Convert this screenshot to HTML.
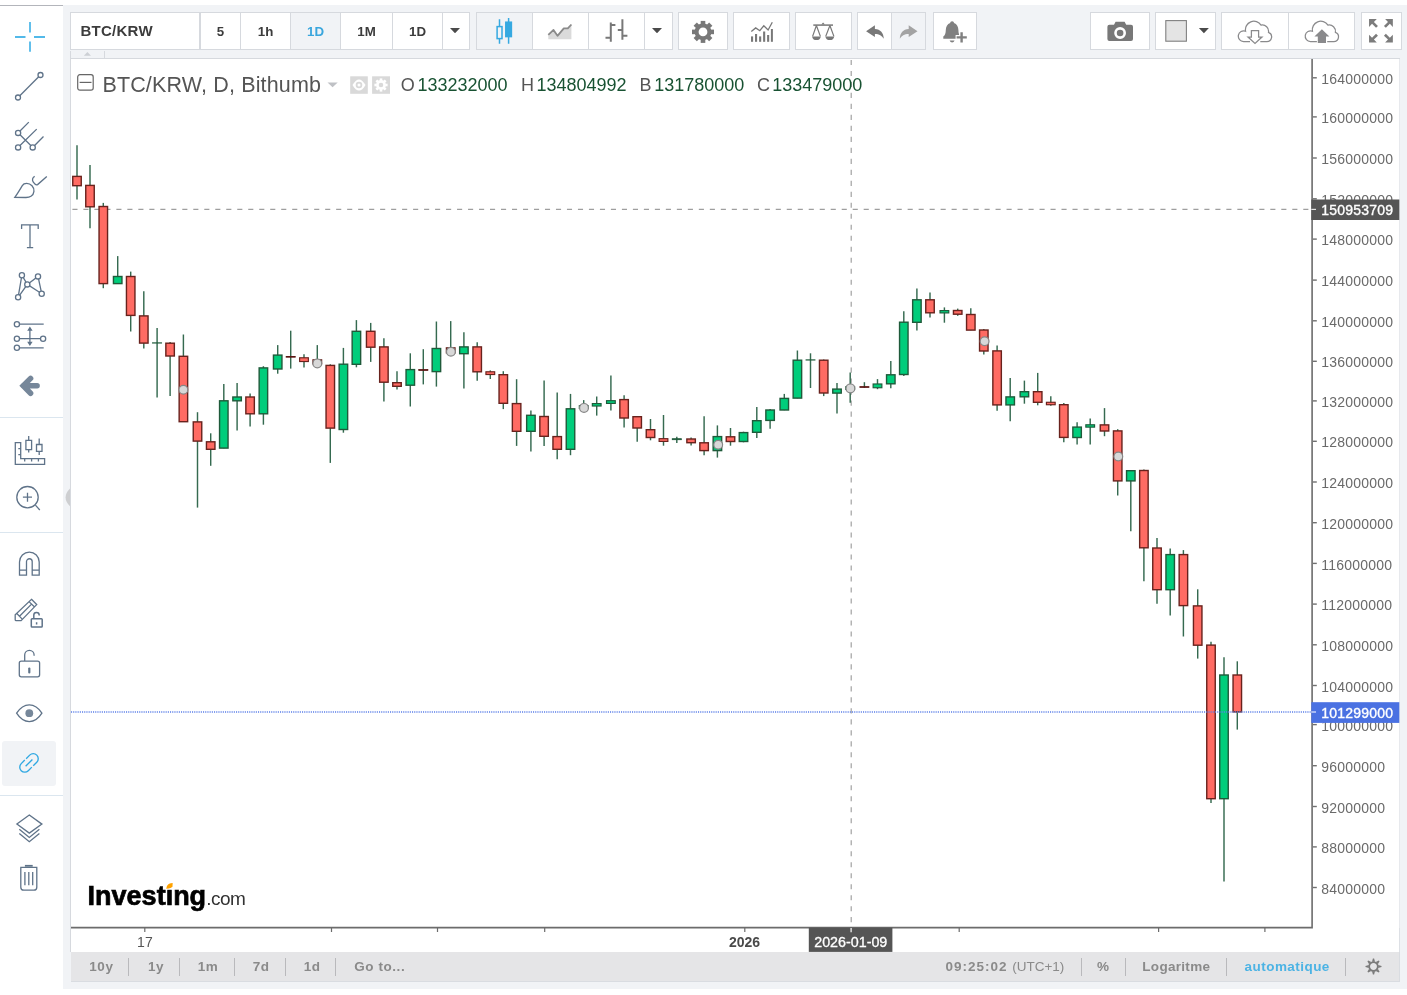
<!DOCTYPE html>
<html lang="fr">
<head>
<meta charset="utf-8">
<title>BTC/KRW</title>
<style>
html,body{margin:0;padding:0}
body{width:1407px;height:995px;position:relative;overflow:hidden;background:#fff;font-family:"Liberation Sans",sans-serif;color:#4a4a4a}
.abs{position:absolute}
#topline{position:absolute;left:0;top:5px;width:63px;height:1px;background:#b3b5bb}
#panel{position:absolute;left:63px;top:5px;width:1344px;height:984px;background:#f1f3f6}
.sep{position:absolute;left:0;width:63px;height:1px;background:#dbe6ef}
#active{position:absolute;left:2px;top:741px;width:54px;height:45px;border-radius:3px;background:#f1f3f6}
.tb{position:absolute;top:12px;height:38px;box-sizing:border-box;background:#fff;border:1px solid #d6d9de}
.tb.on{background:#f1f3f6}
.tb span{position:absolute;left:0;right:0;top:0.6px;line-height:36px;text-align:center;font-weight:bold;font-size:13.3px;color:#3c3c3c}
.tb span.blue{color:#3aa6dd}
#sym{position:absolute;left:9.5px;top:0.4px;line-height:36px;font-weight:bold;font-size:15px;color:#3c3c3c;letter-spacing:.25px}
#strip{position:absolute;left:70px;top:51px;width:1329px;height:7px;border-left:1px solid #d6d9de;border-bottom:1px solid #d6d9de}
#strip i{position:absolute;left:32.6px;top:0;width:1px;height:7px;background:#d6d9de}
#chart{position:absolute;left:70px;top:59px;width:1329.8px;height:893px;background:#fff;border-left:1px solid #d6d9de;border-right:1px solid #dde0e5;box-sizing:border-box}
#legend{position:absolute;left:0;top:0;white-space:nowrap}
#legend .t{position:absolute;top:71.8px;left:102.4px;font-size:21.5px;line-height:26px;color:#555;white-space:nowrap;letter-spacing:.15px}
#legend .v{position:absolute;top:73.5px;font-size:18px;line-height:22px;white-space:nowrap}
#legend .k{color:#555}
#legend .n{color:#185232}
#logo{position:absolute;left:87.6px;top:878.6px;white-space:nowrap;line-height:34px;color:#000}
#logo b{font-size:27px;letter-spacing:0px;-webkit-text-stroke:.7px #000}
#logo span{font-size:19px;letter-spacing:-.45px;color:#333;margin-left:0}
#bbar{position:absolute;left:71px;top:952px;width:1328.8px;height:30px;background:#e5e5e7;border-bottom:1px solid #d9dce1;border-right:1px solid #d9dce1;box-sizing:border-box;font-weight:bold;font-size:13.5px;color:#8a8a8a}
#bbar span{position:absolute;top:0;line-height:29px;white-space:nowrap;letter-spacing:.55px}
#bbar i{position:absolute;top:6px;width:1px;height:18px;background:#b9b9bc}
</style>
</head>
<body>
<div id="topline"></div>
<div id="panel"></div>
<div class="sep" style="top:417px"></div>
<div class="sep" style="top:532px"></div>
<div class="sep" style="top:795px"></div>
<div id="active"></div>
<svg class="abs" style="left:0;top:0" width="63" height="995" viewBox="0 0 63 995" fill="none" stroke="#5f7389" stroke-width="1.3">
<g stroke="#52b9e9" stroke-width="1.8"><path d="M30 22V32.5M30 41.5V51.7M15 37H25.5M34 37H45"/></g>
<path d="M19.8 95.7L38.7 76.8"/><circle cx="18" cy="97.5" r="2.5"/><circle cx="40.5" cy="75" r="2.5"/>
<path d="M20 131L28.8 122.1M20 134.8L30.8 145.5M20 145.5L36.7 129.1M34.6 145.5L43.5 136.5"/><circle cx="18.1" cy="132.9" r="2.6"/><circle cx="18.1" cy="147.4" r="2.6"/><circle cx="32.7" cy="147.4" r="2.6"/>
<path d="M14.8 197.4C18 193 20.5 188.5 22.3 185.6C24 182.8 29 182.6 32 185.8C35 189 34.5 194 31 196.3C29.5 197.3 28 197.5 26 197.5Z"/><path d="M34.7 176.4C32.5 177.5 31.8 180 33.3 182.2C34.6 184.2 36.3 185.2 37.6 184.6L46.8 176.4"/>
<path d="M21.6 229V224.9H38.2V229M30 224.9V247.7M26.9 247.7H33.2"/>
<path d="M21.9 275.2L27.3 284.4L18.1 297.3ZM27.3 284.4L38 276.4L41.7 293.7Z"/><g fill="#fff"><circle cx="21.9" cy="275.2" r="2.6"/><circle cx="38" cy="276.4" r="2.6"/><circle cx="27.3" cy="284.4" r="2.6"/><circle cx="41.7" cy="293.7" r="2.6"/><circle cx="18.1" cy="297.3" r="2.6"/></g>
<path d="M19.6 324.2H43.7M19.6 338.7H40.4M19.6 347.8H43.7M29.9 329V343.5"/><circle cx="16.9" cy="324.2" r="2.6"/><circle cx="16.9" cy="338.7" r="2.6"/><circle cx="43.1" cy="338.7" r="2.6"/><circle cx="16.9" cy="347.8" r="2.6"/><path d="M29.9 326.5L27.2 330.8H32.6ZM29.9 346L27.2 341.7H32.6Z" fill="#5f7389" stroke="none"/>
<path d="M30.6 378.4L23.2 385.8L30.6 393.3M23.2 385.8H37.1" stroke="#76879a" stroke-width="5.5" stroke-linecap="round" stroke-linejoin="miter"/>
<path d="M15.3 442.7H20.7V458.6H44.6V464.4H15.3ZM18.3 448.7H20.7M18.3 454.7H20.7M24.7 458.6V461.6M31.6 458.6V461.6M38.4 458.6V461.6"/><path d="M25.9 440.3H31.6V449.6H25.9ZM28.7 436V440.3M28.7 449.6V452.6M36.5 444.5H42V451.4H36.5ZM39.2 438.5V444.5M39.2 451.4V455"/>
<circle cx="27.5" cy="497.2" r="10.7"/><path d="M22.9 497.2H32M27.5 492.8V501.8M35.4 505.1L39.8 510"/>
<path d="M19.5 575.2V561.9A9.85 9.85 0 0 1 39.2 561.9V575.2H32.2V561.6A2.85 2.85 0 0 0 26.5 561.6V575.2ZM19.5 570.1H26.5M32.2 570.1H39.2"/>
<path d="M31.5 599.3L36.7 604.6L21.1 620.7H16.2Q15.2 620.7 15.2 619.7V614.7ZM16.8 613.5L22 618.9M19.5 616.2L31.8 603.9M29 601.6L34.6 607"/><path d="M32.1 618.7H41.4Q42.2 618.7 42.2 619.5V626.3Q42.2 627.1 41.4 627.1H32.1Q31.3 627.1 31.3 626.3V619.5Q31.3 618.7 32.1 618.7ZM33.8 618.5V615.1A2.7 2.7 0 0 1 39.2 615.1V615.6M36.6 622.3V624.6" stroke-width="1.5"/>
<path d="M21.3 661.1H37.6Q39.6 661.1 39.6 663.1V674.8Q39.6 676.8 37.6 676.8H21.3Q19.3 676.8 19.3 674.8V663.1Q19.3 661.1 21.3 661.1ZM24.7 661V655A4.7 4.7 0 0 1 34.1 655V655.8"/><path d="M29.3 668.6V672.4" stroke-width="2.2" stroke-linecap="round"/>
<path d="M16.6 713.2Q22 704.9 29.3 704.9Q36.6 704.9 41.9 713.2Q36.6 721.6 29.3 721.6Q22 721.6 16.6 713.2Z"/><circle cx="29.3" cy="713.2" r="3.9" fill="#76879a" stroke="none"/>
<g stroke="#2fa8e2" stroke-width="1.35" transform="rotate(-45 29 762.9)"><path d="M28 757.9H23A5 5 0 0 0 23 767.9H28M30 757.9H35A5 5 0 0 1 35 767.9H30M24.2 762.9H33.8"/></g>
<path d="M29.3 815L41.9 824.1L29.3 833.1L16.9 824.1ZM19.3 829.2L29.3 837.4L39.4 829.2M19.3 833.5L29.3 841.7L39.4 833.5"/>
<path d="M20.2 867.4H37.4M20.8 867.6V887.2Q20.8 890.2 23.8 890.2H33.8Q36.8 890.2 36.8 887.2V867.6M24.9 871.9V885.2M28.8 871.9V885.2M32.7 871.9V885.2"/><path d="M24.9 865.8H32.7" stroke-width="1.8"/>
</svg>
<svg class="abs" style="left:64px;top:487px" width="7" height="21" viewBox="64 487 7 21"><path d="M70 488.6Q61.2 497.4 70 506.2Z" fill="#cecfd1"/></svg>

<div class="tb " style="left:70px;width:130px"><div id="sym">BTC/KRW</div></div>
<div class="tb " style="left:200px;width:41px"><span>5</span></div>
<div class="tb " style="left:240px;width:51px"><span>1h</span></div>
<div class="tb on" style="left:290px;width:51px"><span class="blue">1D</span></div>
<div class="tb " style="left:340px;width:53px"><span>1M</span></div>
<div class="tb " style="left:392px;width:51px"><span>1D</span></div>
<div class="tb " style="left:442px;width:28px"></div>
<div class="tb on" style="left:476px;width:57px"></div>
<div class="tb " style="left:532px;width:57px"></div>
<div class="tb " style="left:588px;width:57px"></div>
<div class="tb " style="left:644px;width:29px"></div>
<div class="tb " style="left:678px;width:50px"></div>
<div class="tb " style="left:733px;width:57px"></div>
<div class="tb " style="left:795px;width:57px"></div>
<div class="tb " style="left:857px;width:35px"></div>
<div class="tb on" style="left:891px;width:35px"></div>
<div class="tb " style="left:933px;width:44px"></div>
<div class="tb " style="left:1090px;width:60px"></div>
<div class="tb " style="left:1155px;width:61px"></div>
<div class="tb " style="left:1221px;width:68px"></div>
<div class="tb " style="left:1288px;width:67px"></div>
<div class="tb " style="left:1361px;width:41px"></div>
<svg class="abs" style="left:0;top:0" width="1407" height="60" viewBox="0 0 1407 60" fill="none">
<g fill="#4a4a4a"><path d="M450 28.1H460L455 33.2ZM652 28.1H662L657 33.2ZM1198.9 28.1H1208.9L1203.9 33.2Z"/></g>
<g stroke="#36a9e1" stroke-width="1.5"><path d="M499.5 19.3V26.3M499.5 38.8V43.8M508.6 17.9V43.8"/><rect x="497.1" y="26.6" width="4.9" height="12"/><rect x="505.8" y="22.2" width="5.6" height="14.4" fill="#36a9e1"/></g>
<path d="M548.3 34.9L553.5 29.9L557.5 35.8L563.8 28.3H567.8L571.4 24.5V39.2H548.3Z" fill="#dadada"/><path d="M548.3 34.9L553.5 29.9L557.5 35.8L563.8 28.3H567.8L571.4 24.5" stroke="#8a8a8a" stroke-width="1.8" stroke-linejoin="round"/>
<g stroke="#787878" stroke-width="2"><path d="M610.8 22.5V41.8M605.5 37.8H610.8M610.8 24.9H615.4M622.4 19.3V39.8M617.8 29.9H622.4M622.4 35.8H627.4"/></g>
<g transform="translate(703 31.9)"><circle r="6.4" stroke="#787878" stroke-width="4"/><g fill="#787878"><rect x="-2.3" y="-11" width="4.6" height="4"/><rect x="-2.3" y="7" width="4.6" height="4"/><rect x="-11" y="-2.3" width="4" height="4.6"/><rect x="7" y="-2.3" width="4" height="4.6"/><g transform="rotate(45)"><rect x="-2.3" y="-11" width="4.6" height="4"/><rect x="-2.3" y="7" width="4.6" height="4"/><rect x="-11" y="-2.3" width="4" height="4.6"/><rect x="7" y="-2.3" width="4" height="4.6"/></g></g></g>
<g fill="#787878"><rect x="751" y="36.4" width="2.1" height="5.4"/><rect x="755" y="34" width="2.1" height="7.8"/><rect x="759.1" y="36.4" width="2.1" height="5.4"/><rect x="763.1" y="31.5" width="2.1" height="10.3"/><rect x="767.1" y="35" width="2.1" height="6.8"/><rect x="770.9" y="29" width="2" height="12.8"/></g><path d="M751.3 31.5L755.7 27.9L759.8 30.7L763.8 25.8L768.1 30L772.3 22.2" stroke="#787878" stroke-width="1.3"/>
<g stroke="#787878" stroke-width="1.2"><path d="M813.3 25.1H833" stroke-width="1.5"/><path d="M816.4 25.5L812.6 36.4M816.4 25.5L820.4 36.4M829.9 25.5L825.7 36.4M829.9 25.5L833.9 36.4"/></g><g fill="#787878"><path d="M821.3 24.6L823.1 22.4L824.9 24.6ZM812.1 36.4H820.8Q820.3 40 816.45 40Q812.6 40 812.1 36.4ZM825.4 36.4H834.2Q833.7 40 829.8 40Q825.9 40 825.4 36.4Z"/></g>
<path d="M866.1 31.2L874.9 25.3V28.9C880.5 29.2 883.6 32.8 883.8 38.8C881.8 35.4 879.4 34 874.9 33.9V37Z" fill="#787878"/>
<path d="M917.5 31.2L908.7 25.3V28.9C903.1 29.2 900 32.8 899.8 38.8C901.8 35.4 904.2 34 908.7 33.9V37Z" fill="#a3a3a3"/>
<g fill="#808080"><path d="M952.1 21.3C953.3 21.3 953.9 22 954 23C957 24 958.3 26.8 958.4 30C958.5 33.5 959 35.3 960.7 36.6V38.8H943.3V36.6C945.1 35.3 945.7 33.5 945.8 30C945.9 26.8 947.2 24 950.2 23C950.3 22 950.9 21.3 952.1 21.3ZM949.6 40.6H954.6Q953.8 42.5 952.1 42.5Q950.4 42.5 949.6 40.6Z"/></g><path d="M955.6 37.4H967.6M961.6 31.4V43.4" stroke="#fff" stroke-width="5"/><path d="M956.6 37.4H966.8M961.6 32.2V42.5" stroke="#808080" stroke-width="2.4"/>
<g><path d="M1109.4 24.7H1114L1115.6 21.7H1124.6L1126.2 24.7H1131Q1133 24.7 1133 26.7V39Q1133 41 1131 41H1109.4Q1107.4 41 1107.4 39V26.7Q1107.4 24.7 1109.4 24.7Z" fill="#787878"/><circle cx="1120.1" cy="33" r="4.6" stroke="#fff" stroke-width="2.6" fill="#787878"/></g>
<rect x="1165.8" y="20.6" width="20.6" height="20.6" fill="#e4e4e4" stroke="#808080" stroke-width="1.1"/>
<g stroke="#8a8a8c" stroke-width="1.25"><path d="M1250 41.5H1243.6A5.3 5.3 0 1 1 1245.55 31.27A8.5 8.5 0 0 1 1261.06 25.13A6.3 6.3 0 0 1 1268.5 32.34A4.75 4.75 0 0 1 1266.9 41.55H1260.3"/><path d="M1251.4 30.7H1258.6V37H1262L1255 43.4L1248 37H1251.4Z" fill="#fff"/><path transform="translate(66.9 0)" d="M1250 41.5H1243.6A5.3 5.3 0 1 1 1245.55 31.27A8.5 8.5 0 0 1 1261.06 25.13A6.3 6.3 0 0 1 1268.5 32.34A4.75 4.75 0 0 1 1266.9 41.55H1260.3"/></g><path d="M1321.9 29.2L1329.4 36.6H1326V43H1317.8V36.6H1314.4Z" fill="#8a8a8c"/>
<g fill="#7c7c7c"><path d="M1369.05 19.07H1376.8L1373.9 22.1L1377.95 25.9L1376.04 27.85L1372.03 23.84L1369.05 26.9Z"/><path d="M1369.05 19.07H1376.8L1373.9 22.1L1377.95 25.9L1376.04 27.85L1372.03 23.84L1369.05 26.9Z" transform="translate(2761.9 0) scale(-1 1)"/><path d="M1369.05 19.07H1376.8L1373.9 22.1L1377.95 25.9L1376.04 27.85L1372.03 23.84L1369.05 26.9Z" transform="translate(0 61.62) scale(1 -1)"/><path d="M1369.05 19.07H1376.8L1373.9 22.1L1377.95 25.9L1376.04 27.85L1372.03 23.84L1369.05 26.9Z" transform="translate(2761.9 61.62) scale(-1 -1)"/></g>
</svg>

<div id="strip"><svg class="abs" style="left:12px;top:0" width="9" height="6" viewBox="0 0 9 6"><path d="M0.8 4.8L4.4 1L8 4.8Z" fill="#cdd0d5"/></svg><i></i></div>
<div id="chart"></div>
<svg class="abs" style="left:0;top:0" width="1407" height="995" viewBox="0 0 1407 995" font-family="'Liberation Sans', sans-serif">
<line x1="72.4" y1="209.4" x2="1312" y2="209.4" stroke="#9e9e9e" stroke-width="1.2" stroke-dasharray="5.1 5.89"/>
<line x1="851.2" y1="59.9" x2="851.2" y2="927" stroke="#9e9e9e" stroke-width="1.15" stroke-dasharray="5.1 5.89"/>
<g stroke="#356a50" stroke-width="1.45"><line x1="77.00" y1="145.3" x2="77.00" y2="199.6"/><line x1="90.00" y1="164.9" x2="90.00" y2="228.2"/><line x1="103.30" y1="202.9" x2="103.30" y2="288.2"/><line x1="117.70" y1="256.1" x2="117.70" y2="283.8"/><line x1="130.70" y1="271.6" x2="130.70" y2="331.5"/><line x1="143.80" y1="291.3" x2="143.80" y2="348.5"/><line x1="157.10" y1="328.0" x2="157.10" y2="397.4"/><line x1="170.10" y1="342.1" x2="170.10" y2="396.0"/><line x1="183.40" y1="334.5" x2="183.40" y2="421.9"/><line x1="197.50" y1="412.2" x2="197.50" y2="507.6"/><line x1="210.70" y1="433.3" x2="210.70" y2="465.8"/><line x1="223.80" y1="384.0" x2="223.80" y2="448.3"/><line x1="237.10" y1="383.0" x2="237.10" y2="430.5"/><line x1="250.10" y1="393.6" x2="250.10" y2="426.6"/><line x1="263.40" y1="366.2" x2="263.40" y2="424.7"/><line x1="277.70" y1="345.1" x2="277.70" y2="373.7"/><line x1="290.70" y1="330.7" x2="290.70" y2="368.6"/><line x1="304.00" y1="354.2" x2="304.00" y2="367.6"/><line x1="317.30" y1="345.1" x2="317.30" y2="364.0"/><line x1="330.30" y1="364.3" x2="330.30" y2="462.9"/><line x1="343.40" y1="347.9" x2="343.40" y2="432.7"/><line x1="356.40" y1="320.1" x2="356.40" y2="367.3"/><line x1="370.70" y1="322.9" x2="370.70" y2="361.9"/><line x1="383.90" y1="338.2" x2="383.90" y2="401.5"/><line x1="397.00" y1="371.2" x2="397.00" y2="389.5"/><line x1="410.30" y1="353.3" x2="410.30" y2="406.5"/><line x1="423.30" y1="349.2" x2="423.30" y2="384.4"/><line x1="436.40" y1="321.5" x2="436.40" y2="386.6"/><line x1="450.70" y1="321.1" x2="450.70" y2="353.0"/><line x1="463.90" y1="332.2" x2="463.90" y2="388.4"/><line x1="477.20" y1="342.2" x2="477.20" y2="380.8"/><line x1="490.30" y1="370.4" x2="490.30" y2="379.0"/><line x1="503.30" y1="371.2" x2="503.30" y2="409.1"/><line x1="516.60" y1="379.2" x2="516.60" y2="445.9"/><line x1="530.90" y1="410.6" x2="530.90" y2="451.6"/><line x1="544.10" y1="380.4" x2="544.10" y2="446.1"/><line x1="557.20" y1="392.5" x2="557.20" y2="459.2"/><line x1="570.50" y1="393.9" x2="570.50" y2="455.2"/><line x1="583.70" y1="400.1" x2="583.70" y2="408.5"/><line x1="596.70" y1="396.5" x2="596.70" y2="415.6"/><line x1="610.90" y1="375.4" x2="610.90" y2="410.6"/><line x1="624.10" y1="395.3" x2="624.10" y2="427.4"/><line x1="637.20" y1="416.4" x2="637.20" y2="441.7"/><line x1="650.50" y1="419.0" x2="650.50" y2="440.3"/><line x1="663.50" y1="415.0" x2="663.50" y2="445.7"/><line x1="676.80" y1="436.7" x2="676.80" y2="443.1"/><line x1="691.10" y1="437.5" x2="691.10" y2="445.5"/><line x1="704.10" y1="416.2" x2="704.10" y2="455.2"/><line x1="717.40" y1="425.4" x2="717.40" y2="457.6"/><line x1="730.50" y1="428.0" x2="730.50" y2="445.7"/><line x1="743.50" y1="431.7" x2="743.50" y2="442.3"/><line x1="756.80" y1="406.9" x2="756.80" y2="438.1"/><line x1="770.10" y1="409.1" x2="770.10" y2="428.8"/><line x1="784.30" y1="393.9" x2="784.30" y2="410.2"/><line x1="797.40" y1="350.5" x2="797.40" y2="398.3"/><line x1="810.50" y1="353.3" x2="810.50" y2="388.0"/><line x1="823.70" y1="359.5" x2="823.70" y2="396.1"/><line x1="837.00" y1="383.1" x2="837.00" y2="413.5"/><line x1="850.20" y1="372.5" x2="850.20" y2="402.7"/><line x1="864.40" y1="382.2" x2="864.40" y2="387.8"/><line x1="877.50" y1="379.1" x2="877.50" y2="389.2"/><line x1="890.80" y1="361.1" x2="890.80" y2="388.2"/><line x1="903.80" y1="311.2" x2="903.80" y2="376.1"/><line x1="916.90" y1="288.5" x2="916.90" y2="330.5"/><line x1="930.00" y1="292.5" x2="930.00" y2="317.6"/><line x1="944.40" y1="307.4" x2="944.40" y2="322.7"/><line x1="957.70" y1="308.6" x2="957.70" y2="315.8"/><line x1="970.80" y1="308.2" x2="970.80" y2="330.3"/><line x1="983.80" y1="329.1" x2="983.80" y2="354.4"/><line x1="997.10" y1="345.4" x2="997.10" y2="410.7"/><line x1="1010.20" y1="378.1" x2="1010.20" y2="421.2"/><line x1="1024.40" y1="380.6" x2="1024.40" y2="403.7"/><line x1="1037.70" y1="372.9" x2="1037.70" y2="405.3"/><line x1="1050.80" y1="396.2" x2="1050.80" y2="405.7"/><line x1="1063.80" y1="402.9" x2="1063.80" y2="442.3"/><line x1="1077.10" y1="422.3" x2="1077.10" y2="444.4"/><line x1="1090.20" y1="418.6" x2="1090.20" y2="444.4"/><line x1="1104.50" y1="408.1" x2="1104.50" y2="436.2"/><line x1="1117.70" y1="429.2" x2="1117.70" y2="495.5"/><line x1="1130.80" y1="470.0" x2="1130.80" y2="531.3"/><line x1="1143.90" y1="469.6" x2="1143.90" y2="581.2"/><line x1="1157.00" y1="538.1" x2="1157.00" y2="603.8"/><line x1="1170.20" y1="548.5" x2="1170.20" y2="615.6"/><line x1="1183.40" y1="550.1" x2="1183.40" y2="636.5"/><line x1="1197.70" y1="589.3" x2="1197.70" y2="658.6"/><line x1="1211.00" y1="641.8" x2="1211.00" y2="803.0"/><line x1="1224.00" y1="657.2" x2="1224.00" y2="881.6"/><line x1="1237.30" y1="661.3" x2="1237.30" y2="729.6"/></g>
<g stroke-width="1.1"><rect x="72.75" y="176.40" width="8.50" height="9.30" fill="#ff6b63" stroke="#68221d" stroke-width="1.4"/><rect x="85.75" y="185.40" width="8.50" height="21.40" fill="#ff6b63" stroke="#68221d" stroke-width="1.4"/><rect x="99.05" y="206.50" width="8.50" height="77.10" fill="#ff6b63" stroke="#68221d" stroke-width="1.4"/><rect x="113.45" y="276.50" width="8.50" height="7.10" fill="#00cd7b" stroke="#1f5a3a" stroke-width="1.4"/><rect x="126.45" y="276.50" width="8.50" height="38.90" fill="#ff6b63" stroke="#68221d" stroke-width="1.4"/><rect x="139.55" y="315.90" width="8.50" height="27.20" fill="#ff6b63" stroke="#68221d" stroke-width="1.4"/><rect x="152.55" y="342.80" width="9.10" height="0.30" fill="#1f5a3a" stroke="#1f5a3a" stroke-width="0.8"/><rect x="165.85" y="343.20" width="8.50" height="12.80" fill="#ff6b63" stroke="#68221d" stroke-width="1.4"/><rect x="179.15" y="356.30" width="8.50" height="65.40" fill="#ff6b63" stroke="#68221d" stroke-width="1.4"/><rect x="193.25" y="421.90" width="8.50" height="19.20" fill="#ff6b63" stroke="#68221d" stroke-width="1.4"/><rect x="206.45" y="441.80" width="8.50" height="7.50" fill="#ff6b63" stroke="#68221d" stroke-width="1.4"/><rect x="219.55" y="400.80" width="8.50" height="47.30" fill="#00cd7b" stroke="#1f5a3a" stroke-width="1.4"/><rect x="232.85" y="397.00" width="8.50" height="3.80" fill="#00cd7b" stroke="#1f5a3a" stroke-width="1.4"/><rect x="245.85" y="397.00" width="8.50" height="16.80" fill="#ff6b63" stroke="#68221d" stroke-width="1.4"/><rect x="259.15" y="367.90" width="8.50" height="45.90" fill="#00cd7b" stroke="#1f5a3a" stroke-width="1.4"/><rect x="273.45" y="355.10" width="8.50" height="13.90" fill="#00cd7b" stroke="#1f5a3a" stroke-width="1.4"/><rect x="286.15" y="356.40" width="9.10" height="0.80" fill="#5a1512" stroke="#5a1512" stroke-width="0.8"/><rect x="299.62" y="357.78" width="8.75" height="3.75" fill="#ff6b63" stroke="#68221d" stroke-width="1.15"/><rect x="313.05" y="359.90" width="8.50" height="3.90" fill="#ff6b63" stroke="#68221d" stroke-width="1.4"/><rect x="326.05" y="365.40" width="8.50" height="62.70" fill="#ff6b63" stroke="#68221d" stroke-width="1.4"/><rect x="339.15" y="364.20" width="8.50" height="65.30" fill="#00cd7b" stroke="#1f5a3a" stroke-width="1.4"/><rect x="352.15" y="331.30" width="8.50" height="33.00" fill="#00cd7b" stroke="#1f5a3a" stroke-width="1.4"/><rect x="366.45" y="331.30" width="8.50" height="15.90" fill="#ff6b63" stroke="#68221d" stroke-width="1.4"/><rect x="379.65" y="346.90" width="8.50" height="35.30" fill="#ff6b63" stroke="#68221d" stroke-width="1.4"/><rect x="392.75" y="382.70" width="8.50" height="3.60" fill="#ff6b63" stroke="#68221d" stroke-width="1.4"/><rect x="406.05" y="369.60" width="8.50" height="15.60" fill="#00cd7b" stroke="#1f5a3a" stroke-width="1.4"/><rect x="418.75" y="369.50" width="9.10" height="0.90" fill="#5a1512" stroke="#5a1512" stroke-width="0.8"/><rect x="432.15" y="348.50" width="8.50" height="23.10" fill="#00cd7b" stroke="#1f5a3a" stroke-width="1.4"/><rect x="446.45" y="347.90" width="8.50" height="4.90" fill="#ff6b63" stroke="#68221d" stroke-width="1.4"/><rect x="459.65" y="346.90" width="8.50" height="6.80" fill="#00cd7b" stroke="#1f5a3a" stroke-width="1.4"/><rect x="472.95" y="346.90" width="8.50" height="24.90" fill="#ff6b63" stroke="#68221d" stroke-width="1.4"/><rect x="485.93" y="371.78" width="8.75" height="2.75" fill="#ff6b63" stroke="#68221d" stroke-width="1.15"/><rect x="499.05" y="374.70" width="8.50" height="28.60" fill="#ff6b63" stroke="#68221d" stroke-width="1.4"/><rect x="512.35" y="403.60" width="8.50" height="27.70" fill="#ff6b63" stroke="#68221d" stroke-width="1.4"/><rect x="526.65" y="415.30" width="8.50" height="16.00" fill="#00cd7b" stroke="#1f5a3a" stroke-width="1.4"/><rect x="539.85" y="416.50" width="8.50" height="19.80" fill="#ff6b63" stroke="#68221d" stroke-width="1.4"/><rect x="552.95" y="436.60" width="8.50" height="12.70" fill="#ff6b63" stroke="#68221d" stroke-width="1.4"/><rect x="566.25" y="408.80" width="8.50" height="40.50" fill="#00cd7b" stroke="#1f5a3a" stroke-width="1.4"/><rect x="579.33" y="405.68" width="8.75" height="2.75" fill="#00cd7b" stroke="#1f5a3a" stroke-width="1.15"/><rect x="592.33" y="403.57" width="8.75" height="2.45" fill="#00cd7b" stroke="#1f5a3a" stroke-width="1.15"/><rect x="606.52" y="400.68" width="8.75" height="2.75" fill="#00cd7b" stroke="#1f5a3a" stroke-width="1.15"/><rect x="619.85" y="399.60" width="8.50" height="18.40" fill="#ff6b63" stroke="#68221d" stroke-width="1.4"/><rect x="632.95" y="416.70" width="8.50" height="11.30" fill="#ff6b63" stroke="#68221d" stroke-width="1.4"/><rect x="646.25" y="429.70" width="8.50" height="7.80" fill="#ff6b63" stroke="#68221d" stroke-width="1.4"/><rect x="659.12" y="438.68" width="8.75" height="2.75" fill="#ff6b63" stroke="#68221d" stroke-width="1.15"/><rect x="672.25" y="438.70" width="9.10" height="1.00" fill="#1f5a3a" stroke="#1f5a3a" stroke-width="0.8"/><rect x="686.85" y="439.00" width="8.50" height="3.70" fill="#ff6b63" stroke="#68221d" stroke-width="1.4"/><rect x="699.85" y="442.80" width="8.50" height="7.80" fill="#ff6b63" stroke="#68221d" stroke-width="1.4"/><rect x="713.15" y="436.60" width="8.50" height="14.00" fill="#00cd7b" stroke="#1f5a3a" stroke-width="1.4"/><rect x="726.25" y="436.80" width="8.50" height="4.70" fill="#ff6b63" stroke="#68221d" stroke-width="1.4"/><rect x="739.25" y="432.60" width="8.50" height="8.90" fill="#00cd7b" stroke="#1f5a3a" stroke-width="1.4"/><rect x="752.55" y="420.70" width="8.50" height="11.60" fill="#00cd7b" stroke="#1f5a3a" stroke-width="1.4"/><rect x="765.85" y="410.00" width="8.50" height="10.40" fill="#00cd7b" stroke="#1f5a3a" stroke-width="1.4"/><rect x="780.05" y="398.40" width="8.50" height="11.60" fill="#00cd7b" stroke="#1f5a3a" stroke-width="1.4"/><rect x="793.15" y="360.20" width="8.50" height="37.90" fill="#00cd7b" stroke="#1f5a3a" stroke-width="1.4"/><rect x="805.95" y="359.80" width="9.10" height="0.30" fill="#1f5a3a" stroke="#1f5a3a" stroke-width="0.8"/><rect x="819.45" y="360.20" width="8.50" height="32.80" fill="#ff6b63" stroke="#68221d" stroke-width="1.4"/><rect x="832.75" y="389.10" width="8.50" height="4.00" fill="#00cd7b" stroke="#1f5a3a" stroke-width="1.4"/><rect x="845.83" y="386.68" width="8.75" height="2.75" fill="#00cd7b" stroke="#1f5a3a" stroke-width="1.15"/><rect x="859.85" y="386.60" width="9.10" height="0.80" fill="#5a1512" stroke="#5a1512" stroke-width="0.8"/><rect x="873.12" y="383.98" width="8.75" height="3.75" fill="#00cd7b" stroke="#1f5a3a" stroke-width="1.15"/><rect x="886.55" y="374.80" width="8.50" height="9.00" fill="#00cd7b" stroke="#1f5a3a" stroke-width="1.4"/><rect x="899.55" y="322.20" width="8.50" height="52.30" fill="#00cd7b" stroke="#1f5a3a" stroke-width="1.4"/><rect x="912.65" y="299.80" width="8.50" height="22.50" fill="#00cd7b" stroke="#1f5a3a" stroke-width="1.4"/><rect x="925.75" y="299.80" width="8.50" height="13.00" fill="#ff6b63" stroke="#68221d" stroke-width="1.4"/><rect x="940.02" y="310.57" width="8.75" height="2.35" fill="#00cd7b" stroke="#1f5a3a" stroke-width="1.15"/><rect x="953.45" y="310.50" width="8.50" height="3.70" fill="#ff6b63" stroke="#68221d" stroke-width="1.4"/><rect x="966.55" y="314.50" width="8.50" height="15.60" fill="#ff6b63" stroke="#68221d" stroke-width="1.4"/><rect x="979.55" y="330.00" width="8.50" height="21.00" fill="#ff6b63" stroke="#68221d" stroke-width="1.4"/><rect x="992.85" y="350.90" width="8.50" height="54.00" fill="#ff6b63" stroke="#68221d" stroke-width="1.4"/><rect x="1005.95" y="396.90" width="8.50" height="8.00" fill="#00cd7b" stroke="#1f5a3a" stroke-width="1.4"/><rect x="1020.15" y="391.70" width="8.50" height="5.10" fill="#00cd7b" stroke="#1f5a3a" stroke-width="1.4"/><rect x="1033.45" y="391.70" width="8.50" height="10.60" fill="#ff6b63" stroke="#68221d" stroke-width="1.4"/><rect x="1046.42" y="402.28" width="8.75" height="2.45" fill="#ff6b63" stroke="#68221d" stroke-width="1.15"/><rect x="1059.55" y="404.70" width="8.50" height="32.70" fill="#ff6b63" stroke="#68221d" stroke-width="1.4"/><rect x="1072.85" y="427.10" width="8.50" height="10.40" fill="#00cd7b" stroke="#1f5a3a" stroke-width="1.4"/><rect x="1085.83" y="424.78" width="8.75" height="2.35" fill="#00cd7b" stroke="#1f5a3a" stroke-width="1.15"/><rect x="1100.25" y="424.90" width="8.50" height="6.10" fill="#ff6b63" stroke="#68221d" stroke-width="1.4"/><rect x="1113.45" y="430.90" width="8.50" height="50.00" fill="#ff6b63" stroke="#68221d" stroke-width="1.4"/><rect x="1126.55" y="470.70" width="8.50" height="10.20" fill="#00cd7b" stroke="#1f5a3a" stroke-width="1.4"/><rect x="1139.65" y="470.50" width="8.50" height="77.30" fill="#ff6b63" stroke="#68221d" stroke-width="1.4"/><rect x="1152.75" y="548.00" width="8.50" height="41.70" fill="#ff6b63" stroke="#68221d" stroke-width="1.4"/><rect x="1165.95" y="554.60" width="8.50" height="35.10" fill="#00cd7b" stroke="#1f5a3a" stroke-width="1.4"/><rect x="1179.15" y="554.60" width="8.50" height="51.00" fill="#ff6b63" stroke="#68221d" stroke-width="1.4"/><rect x="1193.45" y="605.90" width="8.50" height="39.30" fill="#ff6b63" stroke="#68221d" stroke-width="1.4"/><rect x="1206.75" y="645.10" width="8.50" height="153.60" fill="#ff6b63" stroke="#68221d" stroke-width="1.4"/><rect x="1219.75" y="675.00" width="8.50" height="123.70" fill="#00cd7b" stroke="#1f5a3a" stroke-width="1.4"/><rect x="1233.05" y="675.00" width="8.50" height="36.90" fill="#ff6b63" stroke="#68221d" stroke-width="1.4"/></g>
<g fill="#d8d8d8" stroke="#868686" stroke-width="1.2"><circle cx="183.40" cy="389.7" r="4.4"/><circle cx="317.30" cy="363.4" r="4.4"/><circle cx="450.90" cy="351.7" r="4.4"/><circle cx="584.00" cy="407.9" r="4.4"/><circle cx="718.20" cy="444.7" r="4.4"/><circle cx="850.40" cy="388.4" r="4.4"/><circle cx="984.60" cy="341.2" r="4.4"/><circle cx="1118.30" cy="456.5" r="4.4"/></g>
<line x1="71" y1="712" x2="1312" y2="712" stroke="#5b7fe8" stroke-width="1.3" stroke-dasharray="1.1 1.1"/>
<rect x="1312" y="59" width="87.3" height="869" fill="#fff"/>
<g stroke="#6f6f6f" stroke-width="1.4"><line x1="1313" y1="77.8" x2="1316.8" y2="77.8"/><line x1="1313" y1="116.9" x2="1316.8" y2="116.9"/><line x1="1313" y1="158.0" x2="1316.8" y2="158.0"/><line x1="1313" y1="198.8" x2="1316.8" y2="198.8"/><line x1="1313" y1="239.1" x2="1316.8" y2="239.1"/><line x1="1313" y1="280.1" x2="1316.8" y2="280.1"/><line x1="1313" y1="320.8" x2="1316.8" y2="320.8"/><line x1="1313" y1="361.3" x2="1316.8" y2="361.3"/><line x1="1313" y1="400.9" x2="1316.8" y2="400.9"/><line x1="1313" y1="441.3" x2="1316.8" y2="441.3"/><line x1="1313" y1="482.0" x2="1316.8" y2="482.0"/><line x1="1313" y1="522.7" x2="1316.8" y2="522.7"/><line x1="1313" y1="563.4" x2="1316.8" y2="563.4"/><line x1="1313" y1="604.1" x2="1316.8" y2="604.1"/><line x1="1313" y1="644.8" x2="1316.8" y2="644.8"/><line x1="1313" y1="685.5" x2="1316.8" y2="685.5"/><line x1="1313" y1="724.6" x2="1316.8" y2="724.6"/><line x1="1313" y1="765.7" x2="1316.8" y2="765.7"/><line x1="1313" y1="806.5" x2="1316.8" y2="806.5"/><line x1="1313" y1="846.9" x2="1316.8" y2="846.9"/><line x1="1313" y1="887.5" x2="1316.8" y2="887.5"/></g>
<g font-size="14" fill="#6a6a6a" letter-spacing=".2"><text x="1321.3" y="83.8">164000000</text><text x="1321.3" y="123.0">160000000</text><text x="1321.3" y="164.1">156000000</text><text x="1321.3" y="204.9">152000000</text><text x="1321.3" y="245.2">148000000</text><text x="1321.3" y="286.2">144000000</text><text x="1321.3" y="326.9">140000000</text><text x="1321.3" y="367.4">136000000</text><text x="1321.3" y="407.0">132000000</text><text x="1321.3" y="447.4">128000000</text><text x="1321.3" y="488.1">124000000</text><text x="1321.3" y="528.8">120000000</text><text x="1321.3" y="569.5">116000000</text><text x="1321.3" y="610.2">112000000</text><text x="1321.3" y="650.9">108000000</text><text x="1321.3" y="691.6">104000000</text><text x="1321.3" y="730.7">100000000</text><text x="1321.3" y="771.8">96000000</text><text x="1321.3" y="812.6">92000000</text><text x="1321.3" y="853.0">88000000</text><text x="1321.3" y="893.6">84000000</text></g>
<path d="M1312.1 59V927.6H71" fill="none" stroke="#6c6c6c" stroke-width="1.6"/>
<rect x="1311.3" y="199.5" width="88" height="20.5" fill="#555"/>
<path d="M1311.3 209.4H1316" stroke="#e2e2e2" stroke-width="1.2"/>
<text x="1321.3" y="215" font-size="14" fill="#fff" stroke="#fff" stroke-width=".35" letter-spacing=".2">150953709</text>
<rect x="1311.3" y="702.2" width="88" height="20.7" fill="#4a71e2"/>
<path d="M1311.3 712H1316" stroke="#e8ecff" stroke-width="1.2"/>
<text x="1321.3" y="717.6" font-size="14" fill="#fff" stroke="#fff" stroke-width=".35" letter-spacing=".2">101299000</text>
<g stroke="#6c6c6c" stroke-width="1.2"><path d="M144.8 928V932M331.5 928V932M437.5 928V932M544.7 928V932M744.8 928V932M959.2 928V932M1158.6 928V932M1264.9 928V932"/></g>
<text x="137.1" y="947" font-size="14" fill="#555">17</text>
<text x="728.9" y="947.2" font-size="14" font-weight="bold" fill="#4a4a4a">2026</text>
<rect x="808.8" y="927.6" width="83.6" height="24.3" fill="#555"/>
<path d="M851.1 928V932.3" stroke="#fff" stroke-width="1.2"/>
<text x="814.2" y="947.2" font-size="14.3" fill="#fff" stroke="#fff" stroke-width=".3">2026-01-09</text>
</svg>
<div id="legend">
<svg class="abs" style="left:76px;top:73px" width="19" height="19" viewBox="0 0 19 19" fill="none" stroke="#666" stroke-width="1.2"><rect x="1.7" y="1.7" width="15.5" height="15.5" rx="2.2"/><path d="M3.6 9.4H15.5"/></svg>
<div class="t">BTC/KRW, D, Bithumb</div>
<svg class="abs" style="left:326.5px;top:81.8px" width="12" height="6" viewBox="0 0 12 6"><path d="M0.5 0.4H10.7L5.6 5.3Z" fill="#bfc1c5"/></svg>
<svg class="abs" style="left:350px;top:76px" width="41" height="18" viewBox="0 0 41 18"><rect x="0.2" y="0.3" width="17.6" height="17.5" fill="#d9d9d9"/><rect x="22.1" y="0.3" width="17.9" height="17.5" fill="#d9d9d9"/><path d="M2.5 9C4.6 5.4 6.8 3.4 9 3.4C11.2 3.4 13.4 5.4 15.5 9C13.4 12.6 11.2 14.6 9 14.6C6.8 14.6 4.6 12.6 2.5 9Z" fill="#fff"/><circle cx="9" cy="9" r="3.3" fill="#d9d9d9"/><circle cx="9" cy="9" r="1.5" fill="#fff"/><g transform="translate(31 9)"><circle r="3.6" fill="none" stroke="#fff" stroke-width="2.6"/><g fill="#fff"><rect x="-1.3" y="-6.6" width="2.6" height="2.4"/><rect x="-1.3" y="4.2" width="2.6" height="2.4"/><rect x="-6.6" y="-1.3" width="2.4" height="2.6"/><rect x="4.2" y="-1.3" width="2.4" height="2.6"/><g transform="rotate(45)"><rect x="-1.3" y="-6.6" width="2.6" height="2.4"/><rect x="-1.3" y="4.2" width="2.6" height="2.4"/><rect x="-6.6" y="-1.3" width="2.4" height="2.6"/><rect x="4.2" y="-1.3" width="2.4" height="2.6"/></g></g></g></svg>
<div class="v k" style="left:400.8px">O</div><div class="v n" style="left:417.4px">133232000</div>
<div class="v k" style="left:521px">H</div><div class="v n" style="left:536.4px">134804992</div>
<div class="v k" style="left:639.6px">B</div><div class="v n" style="left:654.2px">131780000</div>
<div class="v k" style="left:757px">C</div><div class="v n" style="left:772.2px">133479000</div>
</div>
<div id="logo"><b>Investing</b><span>.com</span></div>
<svg class="abs" style="left:164px;top:880px" width="12" height="10" viewBox="0 0 12 10"><rect x="1" y="3" width="8" height="6.2" fill="#fff"/><path d="M2.2 8.7L3 5.9Q4.4 3.1 8.7 2.9L8.5 6.2Q7.8 8.5 2.2 8.7Z" fill="#ffa200"/></svg>

<div id="bbar">
<span style="left:18.3px">10y</span><i style="left:57px"></i>
<span style="left:77px">1y</span><i style="left:108px"></i>
<span style="left:126.7px">1m</span><i style="left:163px"></i>
<span style="left:181.7px">7d</span><i style="left:213.5px"></i>
<span style="left:232.8px">1d</span><i style="left:264px"></i>
<span style="left:283.3px">Go to...</span>
<span style="left:874.4px;letter-spacing:1px">09:25:02 <span style="position:static;font-weight:normal;letter-spacing:0">(UTC+1)</span></span><i style="left:1009.5px"></i>
<span style="left:1026px">%</span><i style="left:1053.5px"></i>
<span style="left:1071.3px;letter-spacing:.3px">Logaritme</span><i style="left:1155px"></i>
<span style="left:1173.6px;color:#4cb3e4;letter-spacing:.45px">automatique</span><i style="left:1274px"></i>
<svg class="abs" style="left:1291.8px;top:3.8px" width="21" height="21" viewBox="-10.5 -10.5 21 21"><circle r="4.3" fill="none" stroke="#7b7b7b" stroke-width="1.7"/><g fill="#7b7b7b"><path id="gt" d="M-1.5 -4.7L-0.6 -8H0.6L1.5 -4.7Z"/><path d="M-1.5 -4.7L-0.6 -8H0.6L1.5 -4.7Z" transform="rotate(45)"/><path d="M-1.5 -4.7L-0.6 -8H0.6L1.5 -4.7Z" transform="rotate(90)"/><path d="M-1.5 -4.7L-0.6 -8H0.6L1.5 -4.7Z" transform="rotate(135)"/><path d="M-1.5 -4.7L-0.6 -8H0.6L1.5 -4.7Z" transform="rotate(180)"/><path d="M-1.5 -4.7L-0.6 -8H0.6L1.5 -4.7Z" transform="rotate(225)"/><path d="M-1.5 -4.7L-0.6 -8H0.6L1.5 -4.7Z" transform="rotate(270)"/><path d="M-1.5 -4.7L-0.6 -8H0.6L1.5 -4.7Z" transform="rotate(315)"/></g></svg>
</div>
</body>
</html>
